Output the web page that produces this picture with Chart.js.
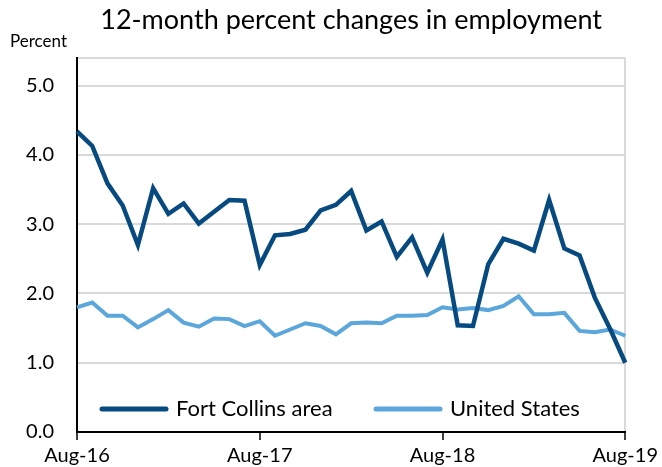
<!DOCTYPE html>
<html>
<head>
<meta charset="utf-8">
<script src="https://cdn.jsdelivr.net/npm/chart.js@4"></script>
<style>
  body { margin: 0; background: #fff; }
  canvas { display: block; }
</style>
</head>
<body>
<canvas id="myChart" width="662" height="467"></canvas>
<script>
const chartTitle = "12-month percent changes in employment";
const unitLabel = "Percent";

const months = [
  "Aug-16", "Sep-16", "Oct-16", "Nov-16", "Dec-16", "Jan-17", "Feb-17", "Mar-17", "Apr-17", "May-17", "Jun-17", "Jul-17",
  "Aug-17", "Sep-17", "Oct-17", "Nov-17", "Dec-17", "Jan-18", "Feb-18", "Mar-18", "Apr-18", "May-18", "Jun-18", "Jul-18",
  "Aug-18", "Sep-18", "Oct-18", "Nov-18", "Dec-18", "Jan-19", "Feb-19", "Mar-19", "Apr-19", "May-19", "Jun-19", "Jul-19",
  "Aug-19"
];

const fortCollins = [
  4.34, 4.13, 3.59, 3.27, 2.70, 3.52, 3.15, 3.30, 3.01, 3.18, 3.35, 3.34,
  2.41, 2.84, 2.86, 2.92, 3.20, 3.28, 3.48, 2.91, 3.04, 2.53, 2.81, 2.30,
  2.78, 1.54, 1.53, 2.42, 2.79, 2.72, 2.62, 3.35, 2.65, 2.55, 1.94, 1.49,
  1.00
];

const unitedStates = [
  1.80, 1.87, 1.68, 1.68, 1.51, 1.63, 1.76, 1.58, 1.52, 1.64, 1.63, 1.53,
  1.60, 1.39, 1.48, 1.57, 1.53, 1.41, 1.57, 1.58, 1.57, 1.68, 1.68, 1.69,
  1.80, 1.77, 1.79, 1.76, 1.82, 1.96, 1.70, 1.70, 1.72, 1.46, 1.44, 1.48,
  1.39
];

const yTicks = [0, 1, 2, 3, 4, 5];

const colors = {
  dark: "#064a80",
  light: "#5ba6da",
  grid: "#d9d9d9",
};

// title, unit label and the in-plot legend
const overlay = {
  id: "overlay",
  afterDraw(chart) {
    const ctx = chart.ctx;
    const area = chart.chartArea;
    ctx.save();
    ctx.fillStyle = "#000";
    ctx.textBaseline = "middle";
    ctx.textAlign = "center";
    ctx.font = "27px Lato";
    ctx.fillText(chartTitle, (area.left + area.right) / 2, 20);
    ctx.textAlign = "left";
    ctx.font = "17px Lato";
    ctx.fillText(unitLabel, 10, 42);

    const starts = [100, 374];
    const y = 409;
    chart.data.datasets.forEach((ds, i) => {
      const x = starts[i];
      ctx.strokeStyle = ds.borderColor;
      ctx.lineWidth = 5;
      ctx.lineCap = "round";
      ctx.beginPath();
      ctx.moveTo(x + 2, y);
      ctx.lineTo(x + 66, y);
      ctx.stroke();
      ctx.font = "22px Lato";
      ctx.fillStyle = "#000";
      ctx.fillText(ds.label, x + 76, y);
    });
    ctx.restore();
  },
};

const ctx = document.getElementById("myChart").getContext("2d");
new Chart(ctx, {
  type: "line",
  data: {
    labels: months,
    datasets: [
      {
        label: "Fort Collins area",
        data: fortCollins,
        borderColor: colors.dark,
        backgroundColor: colors.dark,
        borderWidth: 4.5,
        pointRadius: 0,
        tension: 0,
      },
      {
        label: "United States",
        data: unitedStates,
        borderColor: colors.light,
        backgroundColor: colors.light,
        borderWidth: 4,
        pointRadius: 0,
        tension: 0,
      },
    ],
  },
  options: {
    responsive: false,
    animation: false,
    layout: { padding: { top: 58, right: 36, left: 0, bottom: 0 } },
    plugins: {
      legend: { display: false },
      title: { display: false },
      tooltip: { enabled: false },
    },
    scales: {
      x: {
        offset: false,
        afterFit: (scale) => { scale.height = 34; },
        border: { color: "#000", width: 2 },
        grid: {
          color: (c) => (c.index === months.length - 1 ? colors.grid : "transparent"),
          tickColor: (c) => (c.index % 12 === 0 ? "#000" : "transparent"),
          tickLength: 8,
          lineWidth: 2,
          tickWidth: 1.5,
        },
        ticks: {
          autoSkip: false,
          maxRotation: 0,
          padding: 4,
          color: "#000",
          font: { family: "Lato", size: 20 },
          callback: (val, i) => (i % 12 === 0 ? months[i] : ""),
        },
      },
      y: {
        min: 0,
        max: 5.4,
        afterFit: (scale) => { scale.width = 77; },
        afterBuildTicks: (scale) => {
          scale.ticks = yTicks.map((v) => ({ value: v })).concat([{ value: 5.4 }]);
        },
        border: { color: "#000", width: 2 },
        grid: { color: colors.grid, lineWidth: 2, drawTicks: false },
        ticks: {
          padding: 23,
          color: "#000",
          font: { family: "Lato", size: 20 },
          callback: (v) => (yTicks.includes(v) ? v.toFixed(1) : ""),
        },
      },
    },
  },
  plugins: [overlay],
});
</script>
</body>
</html>
